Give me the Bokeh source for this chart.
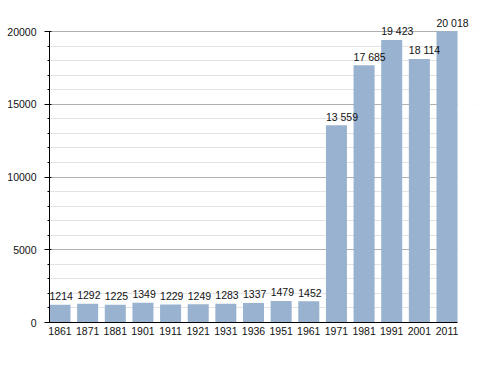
from bokeh.plotting import figure
from bokeh.models import (ColumnDataSource, LabelSet, FixedTicker, SingleIntervalTicker,
                          Range1d, BoxAnnotation)
from bokeh.core.properties import value
from bokeh.embed import file_html
from bokeh.resources import INLINE

years = ["1861", "1871", "1881", "1901", "1911", "1921", "1931", "1936",
         "1951", "1961", "1971", "1981", "1991", "2001", "2011"]
population = [1214, 1292, 1225, 1349, 1229, 1249, 1283, 1337,
              1479, 1452, 13559, 17685, 19423, 18114, 20018]

BAR_W = 0.76
idx = list(range(len(years)))
X0 = -BAR_W / 2
X1 = len(years) - 1 + BAR_W / 2
PLOT_W = 408
EXTRA = 20
x_end = X1 + EXTRA * (X1 - X0) / PLOT_W


def fmt(v):
    return f"{v:,}".replace(",", " ") if v >= 10000 else str(v)


src = ColumnDataSource(dict(
    x=idx,
    xl=[i - BAR_W / 2 for i in idx],
    top=population,
    label=[fmt(v) for v in population],
))

FONT = "Arial"

p = figure(output_backend="svg", toolbar_location=None,
           frame_width=PLOT_W + EXTRA, frame_height=306,
           min_border_left=49, min_border_right=10, min_border_top=16, min_border_bottom=42,
           x_range=Range1d(X0, x_end),
           y_range=Range1d(0, 21031))
p.outline_line_color = None
p.background_fill_color = "white"
p.border_fill_color = "white"

# y axis / grid
yt = SingleIntervalTicker(interval=5000, num_minor_ticks=5)
p.yaxis.ticker = yt
p.yaxis.bounds = (0, 20000)
p.yaxis.axis_line_color = "black"
p.yaxis.major_tick_line_color = "black"
p.yaxis.minor_tick_line_color = "black"
p.yaxis.major_tick_out = 5
p.yaxis.major_tick_in = 2
p.yaxis.minor_tick_out = 2
p.yaxis.minor_tick_in = 0
p.yaxis.major_label_standoff = 8
p.yaxis.major_label_text_font = FONT
p.yaxis.major_label_text_font_size = "10.5px"
p.yaxis.major_label_text_color = "#111111"

p.ygrid.ticker = yt
p.ygrid.bounds = (-1, 20001)
p.ygrid.grid_line_color = "#b0b0b0"
p.ygrid.minor_grid_line_color = "#e3e3e3"
p.xgrid.grid_line_color = None

# mask grid lines to the right of the last bar
mask = BoxAnnotation(left=X1, fill_color="white", fill_alpha=1.0,
                     line_color=None, level="underlay")
p.add_layout(mask)

p.vbar(x="x", top="top", width=BAR_W, bottom=0, source=src,
       fill_color="#98b2cf", line_color=None)

labels = LabelSet(x="xl", y="top", text="label", source=src,
                  text_align="left", text_baseline="middle", y_offset=8.6,
                  text_font=value(FONT), text_font_size=value("10.5px"),
                  text_color=value("#111111"))
p.add_layout(labels)

# x axis
p.xaxis.ticker = FixedTicker(ticks=idx)
p.xaxis.bounds = (X0, X1)
p.xaxis.major_label_overrides = {i: y for i, y in zip(idx, years)}
p.xaxis.axis_line_color = "black"
p.xaxis.major_tick_line_color = None
p.xaxis.minor_tick_line_color = None
p.xaxis.major_tick_out = 0
p.xaxis.major_tick_in = 0
p.xaxis.minor_tick_out = 0
p.xaxis.minor_tick_in = 0
p.xaxis.major_label_standoff = 4
p.xaxis.major_label_text_font = FONT
p.xaxis.major_label_text_font_size = "10.5px"
p.xaxis.major_label_text_color = "#111111"

open("out.html", "w").write(file_html(p, INLINE))
